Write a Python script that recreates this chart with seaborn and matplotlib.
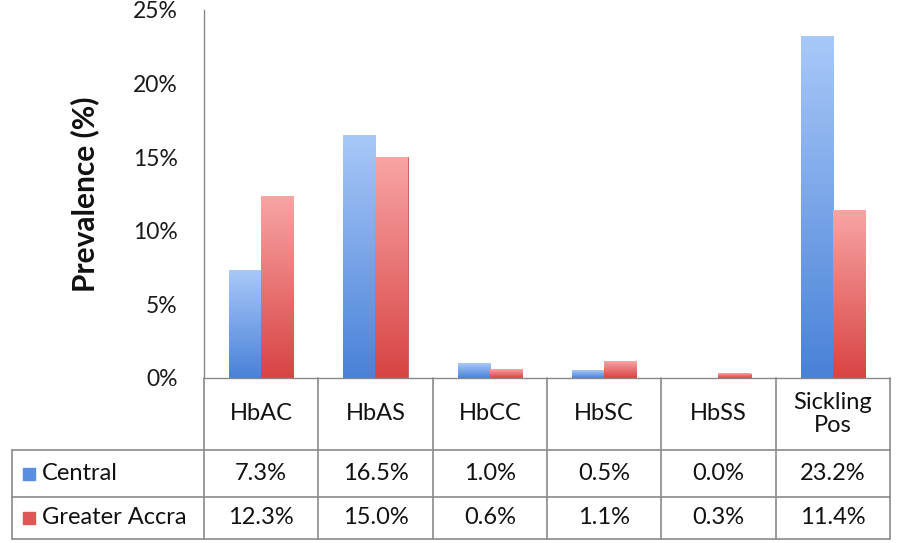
import numpy as np
import pandas as pd
import matplotlib
matplotlib.use("Agg")
import matplotlib.pyplot as plt
from matplotlib.colors import LinearSegmentedColormap
import seaborn as sns

categories = ["HbAC", "HbAS", "HbCC", "HbSC", "HbSS", "Sickling\nPos"]
central = [7.3, 16.5, 1.0, 0.5, 0.0, 23.2]
greater_accra = [12.3, 15.0, 0.6, 1.1, 0.3, 11.4]
series_names = ["Central", "Greater Accra"]
yticks = [0, 5, 10, 15, 20, 25]

df = pd.DataFrame({
    "cat": categories * 2,
    "val": central + greater_accra,
    "series": [series_names[0]] * len(categories) + [series_names[1]] * len(categories),
})

sns.set_theme(style="white")
plt.rcParams["font.family"] = ["Lato", "DejaVu Sans"]

W, H = 898, 543
fig = plt.figure(figsize=(W / 100, H / 100), dpi=100)
ax_left, ax_right, ax_top, ax_bot = 204, 890, 10, 378
ax = fig.add_axes([ax_left / W, 1 - ax_bot / H, (ax_right - ax_left) / W, (ax_bot - ax_top) / H])

sns.barplot(data=df, x="cat", y="val", hue="series", order=categories,
            hue_order=series_names, palette=["#6b9be6", "#e86565"],
            width=0.56, gap=0, legend=False, ax=ax, saturation=1)

grads = [("#a8c8f8", "#4a82d8", "#4a7cc8"), ("#f8a4a4", "#d84444", "#c84040")]
for cont, (top, bot, edge) in zip(ax.containers, grads):
    cmap = LinearSegmentedColormap.from_list("g", [bot, top])
    for p in cont.patches:
        x0, y0 = p.get_x(), p.get_y()
        w, h = p.get_width(), p.get_height()
        if h <= 0:
            p.set_visible(False)
            continue
        p.set_facecolor("none")
        p.set_edgecolor(edge)
        p.set_linewidth(0.6)
        grad = np.linspace(0, 1, 100).reshape(-1, 1)
        ax.imshow(grad, extent=[x0, x0 + w, y0, y0 + h], origin="lower",
                  cmap=cmap, aspect="auto", zorder=2)

ax.set_xlim(-0.5, len(categories) - 0.5)
ax.set_ylim(0, 25)
ax.set_yticks(yticks)
ax.set_yticklabels([f"{t}%" for t in yticks], fontsize=16.5, color="#1a1a1a")
ax.tick_params(axis="y", pad=19, length=0)
ax.set_xticks([])
ax.set_xlabel("")
ax.set_ylabel("Prevalence (%)", fontsize=21.5, fontweight="bold", labelpad=24, color="#111111")
for s in ["top", "right"]:
    ax.spines[s].set_visible(False)
ax.spines["left"].set_color("#888888")
ax.spines["bottom"].set_color("#888888")
ax.spines["left"].set_linewidth(1)
ax.spines["bottom"].set_linewidth(1)

# data table below
xt = ax.get_xaxis_transform()
ax_h = ax_bot - ax_top
def yfrac(py):
    return (ax_bot - py) / ax_h
px_per_unit = (ax_right - ax_left) / len(categories)
def xdata(px):
    return (px - ax_left) / px_per_unit - 0.5

lc = "#8a8a8a"
y_head, y_r1, y_r2 = yfrac(450), yfrac(497), yfrac(539)
x_tab_left = xdata(12)
n = len(categories)
kw = dict(transform=xt, color=lc, lw=1.2, clip_on=False)
for i in range(n + 1):
    ax.plot([i - 0.5, i - 0.5], [0, y_r2], **kw)
ax.plot([x_tab_left, x_tab_left], [y_head, y_r2], **kw)
ax.plot([x_tab_left, n - 0.5], [y_head, y_head], **kw)
ax.plot([x_tab_left, n - 0.5], [y_r1, y_r1], **kw)
ax.plot([x_tab_left, n - 0.5], [y_r2, y_r2], **kw)

tfs = 17
for i, c in enumerate(categories):
    ax.text(i, (0 + y_head) / 2, c, transform=xt, ha="center", va="center",
            fontsize=tfs, color="#111111", linespacing=1.1)
    ax.text(i, (y_head + y_r1) / 2, f"{central[i]:.1f}%", transform=xt,
            ha="center", va="center", fontsize=tfs, color="#111111")
    ax.text(i, (y_r1 + y_r2) / 2, f"{greater_accra[i]:.1f}%", transform=xt,
            ha="center", va="center", fontsize=tfs, color="#111111")

key_colors = ["#5a8ee0", "#e05555"]
for (ylo, yhi), name, kc in zip([(y_head, y_r1), (y_r1, y_r2)], series_names, key_colors):
    yc = (ylo + yhi) / 2
    ax.scatter([xdata(29)], [yc], transform=xt, marker="s", s=80, color=kc,
               clip_on=False, zorder=5)
    ax.text(xdata(42), yc, name, transform=xt, ha="left", va="center",
            fontsize=tfs, color="#111111")

fig.savefig("out.png", dpi=100)
